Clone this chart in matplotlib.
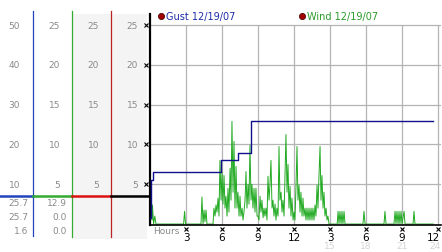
import matplotlib.pyplot as plt
import matplotlib.transforms as mtransforms
from matplotlib.patches import Rectangle

# Gust (step line) and wind readings, hours since start
gust_hours = [0.0, 0.1, 0.25, 5.9, 7.33, 8.42, 23.6]
gust_speed = [0.8, 5.5, 6.5, 8.0, 8.9, 12.9, 12.9]

wind_hours = [0.0, 0.08, 0.17, 0.2, 0.3, 0.4, 0.5,
              2.8, 2.88, 2.96,
              4.25, 4.33, 4.42, 4.5, 4.58, 4.67, 4.75,
              5.25, 5.33, 5.42, 5.5, 5.58, 5.67, 5.75, 5.83, 5.92, 6.0, 6.08, 6.17, 6.25,
              6.33, 6.42, 6.5, 6.58, 6.67, 6.75, 6.83, 6.92, 7.0, 7.08, 7.17, 7.25, 7.33,
              7.42, 7.5, 7.58, 7.67, 7.75, 7.83, 7.92, 8.0, 8.08, 8.17, 8.25, 8.33, 8.42,
              8.5, 8.58, 8.67, 8.75, 8.83, 8.92, 9.0, 9.08, 9.17, 9.25, 9.33, 9.42, 9.5,
              9.58, 9.67, 9.75, 9.83, 9.92, 10.0, 10.08, 10.17, 10.25, 10.33, 10.42, 10.5,
              10.58, 10.67, 10.75, 10.83, 10.92, 11.0, 11.08, 11.17, 11.25, 11.33, 11.42,
              11.5, 11.58, 11.67, 11.75, 11.83, 11.92, 12.0, 12.08, 12.17, 12.25, 12.33,
              12.42, 12.5, 12.58, 12.67, 12.75, 12.83, 12.92, 13.0, 13.08, 13.17, 13.25,
              13.33, 13.42, 13.5, 13.58, 13.67, 13.75, 13.83, 13.92, 14.0, 14.08, 14.17,
              14.25, 14.33, 14.42, 14.5, 14.58, 14.67, 14.75, 14.83, 14.92,
              15.6, 15.67, 15.75, 15.83, 15.92, 16.0, 16.08, 16.17, 16.25,
              17.75, 17.83, 17.92,
              19.5, 19.58, 19.67,
              20.33, 20.42, 20.5, 20.58, 20.67, 20.75, 20.83, 20.92, 21.0, 21.17, 21.25,
              21.92, 22.0, 22.08, 23.6]
wind_speed = [0.0, 2.7, 0.5, 2.4, 0.0, 1.0, 0.0,
              0.0, 1.6, 0.0,
              0.0, 3.4, 0.0, 1.75, 0.3, 1.75, 0.0,
              0.0, 2.0, 1.0, 2.4, 1.5, 3.25, 1.0, 8.0, 3.0, 6.5, 2.5, 6.1, 2.0,
              3.5, 1.0, 4.5, 1.5, 7.0, 3.0, 12.9, 4.0, 10.4, 2.0, 7.25, 2.0, 4.0,
              1.0, 3.5, 1.0, 2.0, 0.5, 1.5, 3.0, 6.6, 2.0, 5.0, 2.5, 9.9, 3.0,
              5.0, 2.0, 4.5, 1.5, 4.5, 1.0, 1.0, 0.5, 3.5, 1.5, 3.0, 0.8, 2.0,
              1.0, 2.0, 0.5, 6.0, 3.0, 5.0, 8.0, 2.0, 3.0, 1.0, 2.5, 0.5,
              2.0, 1.0, 9.75, 3.0, 4.0, 1.5, 3.0, 1.0, 6.0, 11.25, 4.0,
              7.5, 2.0, 4.75, 1.0, 3.25, 0.5, 1.5, 0.5, 4.9, 9.75, 3.0,
              4.9, 1.5, 4.0, 1.0, 3.25, 1.0, 2.0, 0.5, 2.0, 0.5, 2.0,
              0.5, 2.0, 0.5, 2.0, 0.5, 2.4, 1.0, 4.9, 2.0, 6.0, 9.75,
              3.0, 6.1, 2.0, 4.0, 1.0, 2.0, 0.5, 1.0, 0.0,
              0.0, 1.6, 0.0, 1.6, 0.0, 1.6, 0.0, 1.6, 0.0,
              0.0, 1.6, 0.0,
              0.0, 1.6, 0.0,
              0.0, 1.6, 0.0, 1.6, 0.0, 1.6, 0.0, 1.6, 0.0, 1.6, 0.0,
              0.0, 1.6, 0.0, 0.0]

y_ticks = [5, 10, 15, 20, 25]
left_col1 = ['10', '20', '30', '40', '50']
left_cols = ['5', '10', '15', '20', '25']
x_ticks = [3, 6, 9, 12, 15, 18, 21, 24]
x_labels = ['3', '6', '9', '12', '3', '6', '9', '12']
x_labels2 = ['', '', '', '', '15', '18', '21', '24']
stats_col1 = ['25.7', '25.7', '1.6']
stats_col2 = ['12.9', '0.0', '0.0']

W, H = 442, 253
fig = plt.figure(figsize=(W / 100, H / 100), dpi=100)

# pixel overlay for the side panel
ov = fig.add_axes([0, 0, 1, 1], zorder=0)
ov.set_xlim(0, W)
ov.set_ylim(H, 0)
ov.axis('off')

ax = fig.add_axes([150 / W, (H - 226) / H, 291 / W, 211 / H], zorder=1)
ax.patch.set_alpha(0)
ax.set_xlim(0, 24.25)
ax.set_ylim(-0.12, 26.4)
ax.set_xticks([])
ax.set_yticks([])
for s in ['top', 'right']:
    ax.spines[s].set_visible(False)
ax.spines['left'].set_linewidth(1.6)
ax.spines['bottom'].set_linewidth(1.2)

grid_c = '#b4b4b4'
ax.hlines(y_ticks, 0, 24.25, color=grid_c, lw=0.9, zorder=1)
ax.vlines(x_ticks, 0, 25, color=grid_c, lw=0.9, zorder=1)

ax.plot(wind_hours, wind_speed, color='#22aa22', lw=0.7, zorder=2)
ax.plot(gust_hours, gust_speed, color='#10108c', lw=1.0, drawstyle='steps-post', zorder=3)

# legend entries
ax.plot([0.9], [26.2], 'o', ms=4.5, color='#a00000', mec='#400000', mew=0.5, clip_on=False)
ax.text(1.3, 26.2, 'Gust 12/19/07', color='#1c2ca8', fontsize=7, va='center', clip_on=False)
ax.plot([12.7], [26.2], 'o', ms=4.5, color='#a00000', mec='#400000', mew=0.5, clip_on=False)
ax.text(13.1, 26.2, 'Wind 12/19/07', color='#2a9a2a', fontsize=7, va='center', clip_on=False)

# side panel
ov.add_patch(Rectangle((72, 15), 75, 225, color='#f4f4f4', lw=0))
ov.plot([33, 33], [12, 237], color='#2244bb', lw=0.9)
ov.plot([72, 72], [12, 238], color='#33aa33', lw=0.9)
ov.plot([111, 111], [12, 238], color='#bb2222', lw=0.9)
ov.plot([0, 33], [197, 197], color='#2244bb', lw=1.8)
ov.plot([33, 72], [197, 197], color='#33aa33', lw=1.8)
ov.plot([72, 111], [197, 197], color='#dd1111', lw=1.8)
ov.plot([111, 149], [197, 197], color='black', lw=1.8)

ty = mtransforms.blended_transform_factory(ov.transData, ax.transData)
tx = mtransforms.blended_transform_factory(ax.transData, ov.transData)
lab_c = '#8a8a8a'
for v, a, b in zip(y_ticks, left_col1, left_cols):
    ov.text(20, v, a, transform=ty, ha='right', va='center', fontsize=6.5, color=lab_c)
    for xr in [60, 99, 138]:
        ov.text(xr, v, b, transform=ty, ha='right', va='center', fontsize=6.5, color=lab_c)
ov.plot([146] * len(y_ticks), y_ticks, 'x', ms=2.5, mew=0.8, color='black', transform=ty)

for yy, a, b in zip([204, 218, 232], stats_col1, stats_col2):
    ov.text(28, yy, a, ha='right', va='center', fontsize=6.5, color=lab_c)
    ov.text(67, yy, b, ha='right', va='center', fontsize=6.5, color=lab_c)

# x tick marks and labels
ov.plot(x_ticks, [230] * len(x_ticks), 'x', ms=2.5, mew=0.8, color='black', transform=tx)
for i, (v, a, b) in enumerate(zip(x_ticks, x_labels, x_labels2)):
    last = i == len(x_ticks) - 1
    xv = 24.2 if last else v
    ha = 'right' if last else 'center'
    ov.text(xv, 238, a, transform=tx, ha=ha, va='center', fontsize=7.5, color='black')
    ov.text(xv, 247, b, transform=tx, ha=ha, va='center', fontsize=6.5, color='#d4d4d4')
ov.text(153, 232, 'Hours', ha='left', va='center', fontsize=6.5, color='#8a8a8a')

fig.savefig('out.png', dpi=100)
